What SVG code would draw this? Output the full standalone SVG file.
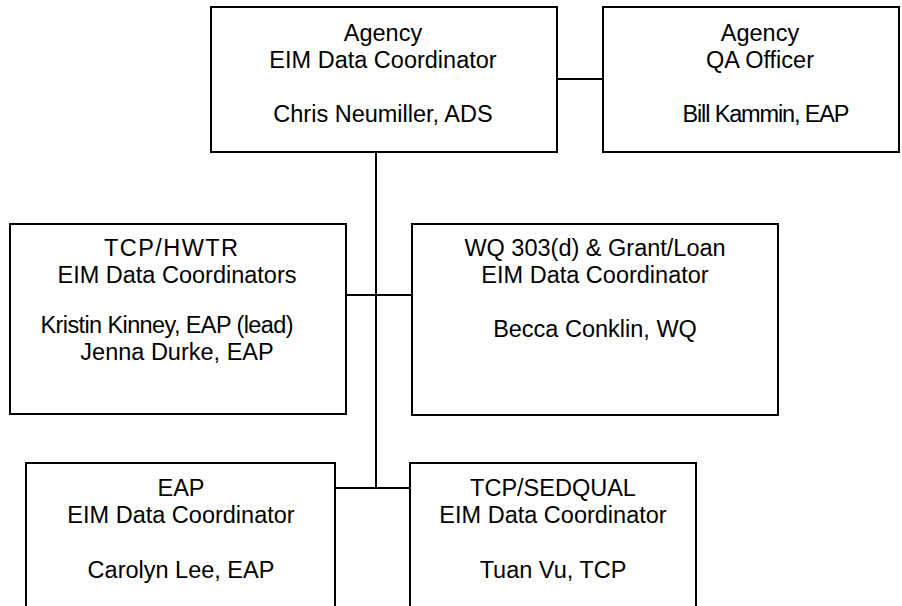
<svg xmlns="http://www.w3.org/2000/svg" width="902" height="606" viewBox="0 0 902 606">
<style>
.box{fill:#fff;stroke:#000;stroke-width:2}
.ln{fill:none;stroke:#000;stroke-width:2}
text{font-family:"Liberation Sans",Arial,sans-serif;font-size:23.5px;fill:#000;text-anchor:middle}
</style>
<rect width="902" height="606" fill="#fff"/>
<g id="connectors">
<line class="ln" x1="557" y1="79" x2="603" y2="79"/>
<line class="ln" x1="376" y1="152" x2="376" y2="488"/>
<line class="ln" x1="346" y1="295" x2="412" y2="295"/>
<line class="ln" x1="335" y1="488" x2="410" y2="488"/>
</g>
<g id="agency-eim">
<rect class="box" x="211" y="7" width="346" height="145"/>
<text x="383" y="41">Agency</text>
<text x="383" y="68">EIM Data Coordinator</text>
<text x="383" y="122">Chris Neumiller, ADS</text>
</g>
<g id="agency-qa">
<rect class="box" x="603" y="7" width="296" height="145"/>
<text x="760" y="41">Agency</text>
<text x="760" y="68">QA Officer</text>
<text x="766" y="122" textLength="167">Bill Kammin, EAP</text>
</g>
<g id="tcp-hwtr">
<rect class="box" x="10" y="224" width="336" height="190"/>
<text x="171" y="256" textLength="134">TCP/HWTR</text>
<text x="177" y="283">EIM Data Coordinators</text>
<text x="167" y="333" textLength="253">Kristin Kinney, EAP (lead)</text>
<text x="177" y="360">Jenna Durke, EAP</text>
</g>
<g id="wq">
<rect class="box" x="412" y="224" width="366" height="191"/>
<text x="595" y="256">WQ 303(d) &amp; Grant/Loan</text>
<text x="595" y="283">EIM Data Coordinator</text>
<text x="595" y="337">Becca Conklin, WQ</text>
</g>
<g id="eap">
<rect class="box" x="26" y="463" width="309" height="160"/>
<text x="181" y="496">EAP</text>
<text x="181" y="523">EIM Data Coordinator</text>
<text x="181" y="578">Carolyn Lee, EAP</text>
</g>
<g id="tcp-sedqual">
<rect class="box" x="410" y="463" width="286" height="160"/>
<text x="553" y="496">TCP/SEDQUAL</text>
<text x="553" y="523">EIM Data Coordinator</text>
<text x="553" y="578">Tuan Vu, TCP</text>
</g>
</svg>
